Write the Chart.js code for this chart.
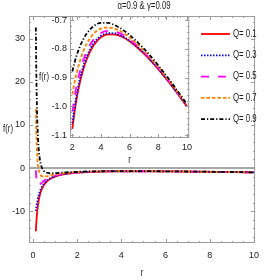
<!DOCTYPE html>
<html>
<head>
<meta charset="utf-8">
<script src="https://cdn.jsdelivr.net/npm/chart.js@4.4.1/dist/chart.umd.min.js"></script>
<style>
html, body { margin: 0; padding: 0; background: #fff; }
#wrap { position: relative; width: 266px; height: 280px; }
#main { position: absolute; left: 0; top: 0; }
#inset { position: absolute; left: 36px; top: 0; }
</style>
</head>
<body>
<div id="wrap">
    <canvas id="main" width="266" height="280"></canvas>
    <canvas id="inset" width="160" height="170"></canvas>
</div>
<script>
// values
const r = [0.13, 0.14, 0.15, 0.17, 0.2, 0.25, 0.3, 0.35, 0.4, 0.5, 0.6, 0.7, 0.85, 1, 1.25, 1.5,
    2, 2.25, 2.5, 2.75, 3, 3.5, 4, 4.5, 5, 5.5, 6, 7, 8, 9, 10];
const q01 = [-14.70, -13.69, -12.80, -11.33, -9.668, -7.763, -6.483, -5.564, -4.874, -3.905, -3.260, -2.800, -2.316, -1.980, -1.606, -1.364,
    -1.078, -0.989, -0.923, -0.874, -0.836, -0.786, -0.759, -0.749, -0.750, -0.758, -0.773, -0.816, -0.870, -0.932, -1.000];
const q03 = [-9.97, -9.61, -9.25, -8.57, -7.668, -6.483, -5.594, -4.911, -4.374, -3.585, -3.037, -2.636, -2.205, -1.900, -1.555, -1.328,
    -1.058, -0.974, -0.911, -0.863, -0.827, -0.779, -0.754, -0.745, -0.746, -0.756, -0.771, -0.814, -0.869, -0.931, -0.999];
const q05 = [-0.50, -1.44, -2.14, -3.03, -3.668, -3.923, -3.816, -3.605, -3.374, -2.945, -2.593, -2.310, -1.983, -1.740, -1.453, -1.257,
    -1.018, -0.942, -0.885, -0.842, -0.809, -0.766, -0.744, -0.737, -0.740, -0.750, -0.766, -0.811, -0.866, -0.929, -0.998];
const q07 = [13.70, 10.80, 8.53, 5.28, 2.332, -0.083, -1.149, -1.646, -1.874, -1.985, -1.926, -1.820, -1.651, -1.500, -1.299, -1.151,
    -0.958, -0.895, -0.847, -0.810, -0.782, -0.746, -0.729, -0.725, -0.730, -0.742, -0.760, -0.806, -0.862, -0.926, -0.995];
const q09 = [32.63, 27.13, 22.75, 16.35, 10.33, 5.038, 2.406, 0.966, 0.127, -0.705, -1.037, -1.167, -1.208, -1.180, -1.094, -1.008,
    -0.878, -0.831, -0.795, -0.768, -0.747, -0.720, -0.709, -0.709, -0.718, -0.732, -0.751, -0.799, -0.857, -0.922, -0.992];
const qLabels = ['Q= 0.1', 'Q= 0.3', 'Q= 0.5', 'Q= 0.7', 'Q= 0.9'];
const xTicks = [0, 2, 4, 6, 8, 10];
const yTicks = [-10, 0, 10, 20, 30];
const insetXTicks = [2, 4, 6, 8, 10];
const insetYTicks = [-1.1, -1.0, -0.9, -0.8, -0.7];
const titleText = 'α=0.9 & γ=0.09';

const colors = ['#ff0000', '#0000ff', '#ff00ff', '#ff8000', '#000000'];
const dashes = [[], [1.5, 1.5], [8, 9], [3.5, 2], [4, 2, 1.2, 2]];
const FONT = '"Liberation Sans", Arial, sans-serif';
Chart.defaults.font.family = FONT;

const allQ = [q01, q03, q05, q07, q09];

function makeSets(from) {
    return allQ.map(function (vals, i) {
        var pts = [];
        r.forEach(function (x, k) {
            if (x >= from) pts.push({ x: x, y: vals[k] });
        });
        return {
            label: qLabels[i],
            data: pts,
            borderColor: colors[i],
            borderDash: dashes[i],
            borderWidth: 1.8,
            pointRadius: 0,
            fill: false,
            cubicInterpolationMode: 'monotone',
            order: allQ.length - i
        };
    });
}

// narrow text, like the squeezed labels of the original
function narrowText(ctx, text, x, y, align) {
    ctx.save();
    ctx.translate(x, y);
    ctx.scale(0.78, 1);
    ctx.textAlign = align;
    ctx.fillText(text, 0, 0);
    ctx.restore();
}

// Mathematica-like frame with inside ticks, axis labels, legend
const framePlugin = {
    id: 'frame',
    beforeDatasetsDraw(chart, args, o) {
        if (!o.zeroLine) return;
        const { ctx, chartArea: a, scales: { y } } = chart;
        const py = y.getPixelForValue(0);
        ctx.save();
        ctx.strokeStyle = '#a8a8a8';
        ctx.lineWidth = 2;
        ctx.beginPath();
        ctx.moveTo(a.left, py);
        ctx.lineTo(a.right, py);
        ctx.stroke();
        ctx.restore();
    },
    afterDatasetsDraw(chart, args, o) {
        const { ctx, chartArea: a, scales: { x, y } } = chart;
        ctx.save();
        ctx.strokeStyle = '#9c9c9c';
        ctx.lineWidth = 1;
        ctx.setLineDash([]);
        ctx.strokeRect(a.left + 0.5, a.top + 0.5, a.right - a.left - 1, a.bottom - a.top - 1);
        ctx.beginPath();
        const marks = (scale, step, len, horiz) => {
            const start = Math.ceil((scale.min - 1e-9) / step);
            for (let k = start; k * step <= scale.max + 1e-9; k++) {
                const p = Math.round(scale.getPixelForValue(k * step)) + 0.5;
                if (horiz) {
                    ctx.moveTo(p, a.bottom); ctx.lineTo(p, a.bottom - len);
                    ctx.moveTo(p, a.top); ctx.lineTo(p, a.top + len);
                } else {
                    ctx.moveTo(a.left, p); ctx.lineTo(a.left + len, p);
                    ctx.moveTo(a.right, p); ctx.lineTo(a.right - len, p);
                }
            }
        };
        marks(x, o.xMinor, 2, true);
        marks(x, o.xMajor, 4, true);
        marks(y, o.yMinor, 2, false);
        marks(y, o.yMajor, 4, false);
        ctx.stroke();

        ctx.fillStyle = '#222';
        ctx.font = '10px ' + FONT;
        ctx.textBaseline = 'middle';
        narrowText(ctx, 'f(r)', o.fLabelX, (a.top + a.bottom) / 2, 'center');
        narrowText(ctx, 'r', (a.left + a.right) / 2, a.bottom + o.rLabelDy, 'center');
        if (o.title) narrowText(ctx, titleText, (a.left + a.right) / 2 + 2, 6, 'center');

        if (o.legend) {
            chart.data.datasets.forEach(function (ds, i) {
                const ly = 34 + i * 21.3;
                ctx.strokeStyle = ds.borderColor;
                ctx.lineWidth = ds.borderWidth;
                ctx.setLineDash(ds.borderDash);
                ctx.beginPath();
                ctx.moveTo(201, ly);
                ctx.lineTo(230, ly);
                ctx.stroke();
                narrowText(ctx, ds.label, 233, ly, 'left');
            });
        }
        ctx.restore();
    }
};

function axis(min, max, ticks, size, fmt, horiz, pad) {
    return {
        type: 'linear',
        min: min,
        max: max,
        grid: { display: false, drawTicks: false },
        border: { display: false },
        afterBuildTicks: function (s) { s.ticks = ticks.map(function (v) { return { value: v }; }); },
        afterFit: function (s) { if (horiz) s.height = size; else s.width = size; },
        ticks: { padding: pad, color: '#222', font: { size: 9 }, maxRotation: 0, autoSkip: false, callback: fmt }
    };
}

new Chart('main', {
    type: 'line',
    data: { datasets: makeSets(0) },
    options: {
        responsive: false,
        animation: false,
        layout: { padding: { top: 16, right: 6, left: 0, bottom: 0 } },
        plugins: {
            legend: { display: false },
            tooltip: { enabled: false },
            frame: { zeroLine: true, xMajor: 2, xMinor: 0.5, yMajor: 10, yMinor: 2, fLabelX: 8, rLabelDy: 30, title: true, legend: true }
        },
        scales: {
            x: axis(-0.18, 10.05, xTicks, 37, function (v) { return String(v); }, true, 7),
            y: axis(-17.4, 35.3, yTicks, 29, function (v) { return String(v); }, false, 4)
        }
    },
    plugins: [framePlugin]
});

new Chart('inset', {
    type: 'line',
    data: { datasets: makeSets(2) },
    options: {
        responsive: false,
        animation: false,
        layout: { padding: { top: 16, right: 5, left: 0, bottom: 0 } },
        plugins: {
            legend: { display: false },
            tooltip: { enabled: false },
            frame: { zeroLine: false, xMajor: 2, xMinor: 0.5, yMajor: 0.1, yMinor: 0.02, fLabelX: 8, rLabelDy: 22, title: false, legend: false }
        },
        scales: {
            x: axis(1.84, 10.16, insetXTicks, 32, function (v) { return String(v); }, true, 4),
            y: axis(-1.11, -0.685, insetYTicks, 34, function (v) { return v.toFixed(1); }, false, 3)
        }
    },
    plugins: [framePlugin]
});
</script>
</body>
</html>
